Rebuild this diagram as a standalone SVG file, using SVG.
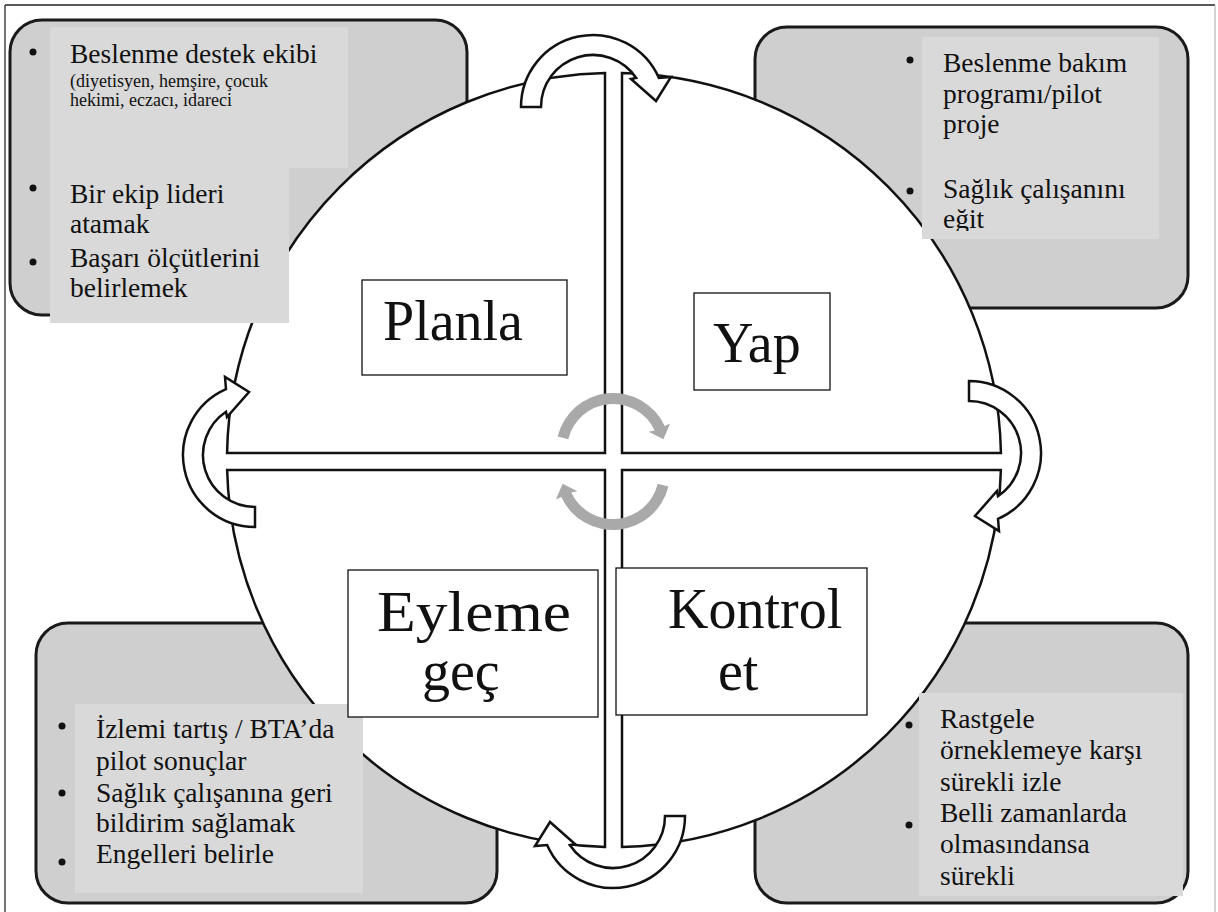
<svg xmlns="http://www.w3.org/2000/svg" width="1218" height="912" viewBox="0 0 1218 912">
<style>
.box{fill:#cfcfcf;stroke:#1a1a1a;stroke-width:3}
.tr{fill:#d9d9d9}
.t{font-family:"Liberation Serif","Times New Roman",serif;font-size:27.5px;fill:#111}
.ts{font-size:18px}
.big{font-size:56px}
.q{fill:#fff;stroke:#111;stroke-width:2.5}
.lbl{fill:#fff;stroke:#111;stroke-width:1.3}
.arw{fill:#fff;stroke:#111;stroke-width:2.5;stroke-linejoin:miter}
.garw{fill:#a9a9a9}
.dot{fill:#111}
</style>
<defs>
<path id="warrow" d="M -72 0 A 72 72 0 0 1 65.9 -29 L 78 -30 L 63 -6 L 38 -28 L 43.2 -29 A 52 52 0 0 0 -52 0 Z"/>
<path id="garrow" d="M -55.4 -13.4 A 57 57 0 0 1 51.7 -24.1 L 57.1 -26.6 L 50.4 -10.7 L 35.6 -18.2 L 41.7 -19.4 A 46 46 0 0 0 -44.7 -10.8 Z"/>
<clipPath id="trclip"><rect x="900" y="30" width="300" height="201"/></clipPath>
</defs>
<rect x="0" y="0" width="1218" height="912" fill="#fff"/>
<g id="frame" fill="none">
<line x1="5" y1="5" x2="1215" y2="5" stroke="#222" stroke-width="1.5"/>
<line x1="5" y1="5" x2="5" y2="912" stroke="#444" stroke-width="1.5"/>
<line x1="1215" y1="5" x2="1215" y2="912" stroke="#aaa" stroke-width="1"/>
</g>
<g id="backboxes">
<rect class="box" x="10" y="20" width="457" height="295" rx="32"/>
<rect class="box" x="755" y="27" width="433" height="281" rx="32"/>
<rect class="box" x="36" y="623" width="461" height="280" rx="32"/>
<rect class="box" x="755" y="623" width="433" height="280" rx="32"/>
</g>
<g id="cycle">
<path class="q" d="M 605 453 L 227.06 453 A 387 387 0 0 1 605 73.1 Z"/>
<path class="q" d="M 622 453 L 622 73.08 A 387 387 0 0 1 1000.94 453 Z"/>
<path class="q" d="M 622 470 L 1000.87 470 A 387 387 0 0 1 622 846.92 Z"/>
<path class="q" d="M 605 470 L 605 846.9 A 387 387 0 0 1 227.13 470 Z"/>
</g>
<g id="plan-notes">
<rect class="tr" x="50" y="27" width="298" height="141"/>
<rect class="tr" x="50" y="167" width="239" height="156"/>
<circle class="dot" cx="33" cy="52" r="3.5"/>
<circle class="dot" cx="33" cy="188" r="3.5"/>
<circle class="dot" cx="33" cy="262" r="3.5"/>
<text class="t" x="70" y="63">Beslenme destek ekibi</text>
<text class="t ts" x="70" y="87">(diyetisyen, hemşire, çocuk</text>
<text class="t ts" x="70" y="106">hekimi, eczacı, idareci</text>
<text class="t" x="70" y="203">Bir ekip lideri</text>
<text class="t" x="70" y="233">atamak</text>
<text class="t" x="70" y="267">Başarı ölçütlerini</text>
<text class="t" x="70" y="297">belirlemek</text>
</g>
<g id="do-notes">
<rect class="tr" x="922" y="37" width="237" height="202"/>
<circle class="dot" cx="910" cy="60" r="3.5"/>
<circle class="dot" cx="910" cy="191" r="3.5"/>
<g clip-path="url(#trclip)">
<text class="t" x="943" y="72">Beslenme bakım</text>
<text class="t" x="943" y="103">programı/pilot</text>
<text class="t" x="943" y="133">proje</text>
<text class="t" x="943" y="198">Sağlık çalışanını</text>
<text class="t" x="943" y="228">eğit</text>
</g>
</g>
<g id="act-notes">
<rect class="tr" x="75" y="704" width="288" height="189"/>
<circle class="dot" cx="62" cy="726" r="3.5"/>
<circle class="dot" cx="62" cy="793" r="3.5"/>
<circle class="dot" cx="62" cy="862" r="3.5"/>
<text class="t" x="96" y="738">İzlemi tartış / BTA’da</text>
<text class="t" x="96" y="770">pilot sonuçlar</text>
<text class="t" x="96" y="802">Sağlık çalışanına geri</text>
<text class="t" x="96" y="832">bildirim sağlamak</text>
<text class="t" x="96" y="863">Engelleri belirle</text>
</g>
<g id="check-notes">
<rect class="tr" x="919" y="693" width="264" height="203"/>
<circle class="dot" cx="909" cy="725" r="3.5"/>
<circle class="dot" cx="909" cy="825" r="3.5"/>
<text class="t" x="940" y="728">Rastgele</text>
<text class="t" x="940" y="759">örneklemeye karşı</text>
<text class="t" x="940" y="791">sürekli izle</text>
<text class="t" x="940" y="822">Belli zamanlarda</text>
<text class="t" x="940" y="853">olmasındansa</text>
<text class="t" x="940" y="885">sürekli</text>
</g>
<g id="planla">
<rect class="lbl" x="362" y="280" width="205" height="95"/>
<text class="t big" x="383" y="340">Planla</text>
</g>
<g id="yap">
<rect class="lbl" x="694" y="293" width="136" height="97"/>
<text class="t big" x="713" y="362">Yap</text>
</g>
<g id="eyleme-gec">
<rect class="lbl" x="348" y="570" width="250" height="147"/>
<text class="t big" x="377" y="631" textLength="194" lengthAdjust="spacingAndGlyphs">Eyleme</text>
<text class="t big" x="422" y="690">geç</text>
</g>
<g id="kontrol-et">
<rect class="lbl" x="616" y="568" width="251" height="147"/>
<text class="t big" x="668" y="628">Kontrol</text>
<text class="t big" x="718" y="690">et</text>
</g>
<g id="connectors">
<use href="#warrow" class="arw" transform="translate(593,107)"/>
<use href="#warrow" class="arw" transform="translate(969,453) rotate(90)"/>
<use href="#warrow" class="arw" transform="translate(613,816) rotate(180)"/>
<use href="#warrow" class="arw" transform="translate(255,455) rotate(-90)"/>
<use href="#garrow" class="garw" transform="translate(613,450)"/>
<use href="#garrow" class="garw" transform="translate(613,473) rotate(180)"/>
</g>
</svg>
